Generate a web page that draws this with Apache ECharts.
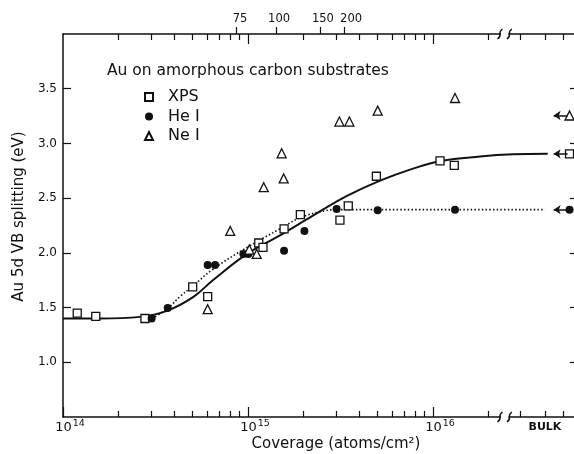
<!DOCTYPE html>
<html>
<head>
<meta charset="utf-8">
<script src="https://cdn.jsdelivr.net/npm/echarts@6/dist/echarts.min.js"></script>
<style>
  html, body { margin: 0; padding: 0; background: #fff; }
  #chart { width: 574px; height: 454px; }
</style>
</head>
<body>
<div id="chart"></div>
<script>
// x values are log10 of the coverage (atoms/cm2), y is the Au 5d splitting in eV
var xpsX = [14.077, 14.177, 14.443, 14.701, 14.782, 15.058, 15.081, 15.195, 15.283, 15.497, 15.542, 15.694, 16.038, 16.115];
var xpsY = [1.45, 1.42, 1.40, 1.69, 1.60, 2.09, 2.05, 2.22, 2.35, 2.30, 2.43, 2.70, 2.84, 2.80];
var heX = [14.479, 14.566, 14.782, 14.822, 14.975, 15.002, 15.195, 15.305, 15.479, 15.701, 16.119];
var heY = [1.40, 1.495, 1.89, 1.89, 1.99, 1.99, 2.02, 2.20, 2.40, 2.39, 2.395];
var neX = [14.782, 14.904, 15.007, 15.047, 15.085, 15.182, 15.193, 15.494, 15.548, 15.701, 16.119];
var neY = [1.485, 2.20, 2.03, 1.99, 2.60, 2.91, 2.68, 3.20, 3.20, 3.30, 3.415];

// bulk values, drawn right of the axis break
var bulkX = 16.738;
var bulkXps = 2.905, bulkHe = 2.395, bulkNe = 3.255;

// curves
var solidX = [14.0, 14.2, 14.416, 14.562, 14.703, 14.81, 14.995, 15.173, 15.351, 15.535, 15.714, 15.892, 16.043, 16.254, 16.432, 16.62];
var solidY = [1.40, 1.40, 1.415, 1.47, 1.595, 1.75, 1.99, 2.16, 2.34, 2.52, 2.66, 2.77, 2.84, 2.88, 2.90, 2.905];
var dotX = [14.481, 14.568, 14.632, 14.697, 14.81, 14.995, 15.173, 15.281, 15.39, 15.481, 16.605];
var dotY = [1.40, 1.495, 1.60, 1.69, 1.85, 2.05, 2.22, 2.32, 2.375, 2.395, 2.395];

// ticks
var majorTicks = [14, 15, 16];
var bulkLabelPos = 16.605;
var afterBreakTicks = [16.47, 16.605, 16.703];
var yTicks = [1.0, 1.5, 2.0, 2.5, 3.0, 3.5];
var thickLabels = ['75', '100', '150', '200'];
var thickTickPos = [14.935, 15.155, 15.393, 15.519];
var thickLabelPos = [14.957, 15.168, 15.405, 15.557];
var breakPos = [16.362, 16.413];

(function() {
  var myChart = echarts.init(document.getElementById('chart'));
  var ink = '#111';

  var minorTicks = [];
  [14, 15].forEach(function (d) {
    for (var k = 2; k <= 9; k++) minorTicks.push(d + Math.log10(k));
  });
  minorTicks.push(16 + Math.log10(2));
  minorTicks = minorTicks.concat(afterBreakTicks);

  function pairs(xs, ys) {
    return xs.map(function (x, i) { return [x, ys[i]]; });
  }
  function arrow(y) {
    return {
      silent: true,
      symbol: ['none', 'arrow'],
      symbolSize: 7,
      label: { show: false },
      lineStyle: { color: ink, width: 1.5, type: 'solid', opacity: 1 },
      data: [[{ coord: [16.728, y] }, { coord: [16.652, y] }]]
    };
  }

  var xMin = 14, xMax = 16.773;
  function xAx(pos, opt) {
    return Object.assign({
      type: 'value', position: pos, min: xMin, max: xMax,
      splitLine: { show: false },
      axisLine: { show: false },
      axisLabel: { show: false },
      axisTick: { show: false }
    }, opt);
  }

  var option = {
    animation: false,
    backgroundColor: '#fff',
    textStyle: { fontFamily: 'DejaVu Sans', color: ink },
    title: {
      text: 'Au on amorphous carbon substrates',
      left: 102, top: 58,
      textStyle: { fontSize: 15.5, fontWeight: 'normal', color: ink }
    },
    legend: {
      orient: 'vertical',
      left: 139, top: 84,
      itemWidth: 8, itemHeight: 8,
      itemGap: 3.5,
      data: ['XPS', 'He I', 'Ne I'],
      textStyle: { fontSize: 16, color: ink, lineHeight: 15.5, padding: [0, 0, 0, 10] }
    },
    grid: { left: 63, top: 34, right: -2, bottom: 37, outerBoundsMode: 'none' },
    xAxis: [
      xAx('bottom', {
        axisLine: { show: true, lineStyle: { color: ink, width: 1.5 } },
        axisTick: { show: true, inside: true, length: 10, customValues: majorTicks, lineStyle: { color: ink, width: 1.2 } },
        axisLabel: {
          show: true, margin: 2, customValues: majorTicks.concat([bulkLabelPos]),
          padding: [0, 0, 0, 14],
          formatter: function (v) {
            if (v > 16.5) return '{b|BULK}';
            return '{m|10}{s|' + Math.round(v) + '}';
          },
          rich: {
            m: { fontSize: 13, color: ink },
            s: { fontSize: 9.5, color: ink, padding: [0, 0, 7, 1] },
            b: { fontSize: 11, color: ink, fontWeight: 'bold', padding: [3, 14, 0, 0] }
          }
        }
      }),
      xAx('bottom', {
        name: 'Coverage (atoms/cm\u00b2)',
        nameLocation: 'middle', nameGap: 20,
        nameTextStyle: { fontSize: 15, color: ink, padding: [0, 0, 0, 33] },
        axisTick: { show: true, inside: true, length: 6, customValues: minorTicks, lineStyle: { color: ink, width: 1.2 } }
      }),
      xAx('top', {
        axisLine: { show: true, lineStyle: { color: ink, width: 1.5 } },
        axisTick: { show: true, inside: true, length: 10, customValues: [15, 16], lineStyle: { color: ink, width: 1.2 } }
      }),
      xAx('top', {
        axisTick: { show: true, inside: true, length: 6, customValues: minorTicks, lineStyle: { color: ink, width: 1.2 } }
      }),
      xAx('top', {
        axisTick: { show: true, inside: false, length: 7, customValues: thickTickPos, lineStyle: { color: ink, width: 1.2 } },
        axisLabel: {
          show: true, margin: 9, customValues: thickLabelPos, fontSize: 11.5, color: ink,
          formatter: function (v) {
            return thickLabels[thickLabelPos.indexOf(v)];
          }
        }
      })
    ],
    yAxis: [
      {
        type: 'value', position: 'left', min: 0.5, max: 4.0, interval: 0.5,
        name: 'Au 5d VB splitting (eV)',
        nameLocation: 'middle', nameGap: 31,
        nameTextStyle: { fontSize: 15, color: ink, padding: [0, 0, 0, 18] },
        splitLine: { show: false },
        axisLine: { show: true, lineStyle: { color: ink, width: 1.5 } },
        axisTick: { inside: true, length: 8, customValues: yTicks, lineStyle: { color: ink, width: 1.2 } },
        axisLabel: {
          margin: 6, fontSize: 12, color: ink, customValues: yTicks,
          formatter: function (v) { return v.toFixed(1); }
        }
      },
      {
        type: 'value', position: 'right', min: 0.5, max: 4.0, interval: 0.5,
        splitLine: { show: false },
        axisLine: { show: true, lineStyle: { color: ink, width: 1.5 } },
        axisTick: { inside: true, length: 6, customValues: yTicks, lineStyle: { color: ink, width: 1.2 } },
        axisLabel: { show: false }
      }
    ],
    series: [
      {
        name: 'fit XPS', type: 'line', smooth: 0.4, showSymbol: false, z: 2,
        data: pairs(solidX, solidY),
        lineStyle: { color: ink, width: 2 }
      },
      {
        name: 'fit He I', type: 'line', smooth: 0.4, showSymbol: false, z: 2,
        data: pairs(dotX, dotY),
        lineStyle: { color: ink, width: 1.6, type: [1.5, 2.2] }
      },
      {
        name: 'XPS', type: 'scatter', symbol: 'rect', symbolSize: 8, z: 4,
        itemStyle: { color: '#fff', borderColor: ink, borderWidth: 1.3, opacity: 1 },
        data: pairs(xpsX, xpsY).concat([[bulkX, bulkXps]]),
        markLine: arrow(bulkXps)
      },
      {
        name: 'He I', type: 'scatter', symbol: 'circle', symbolSize: 8, z: 4,
        itemStyle: { color: ink, opacity: 1 },
        data: pairs(heX, heY).concat([[bulkX, bulkHe]]),
        markLine: arrow(bulkHe)
      },
      {
        name: 'Ne I', type: 'scatter', symbol: 'triangle', symbolSize: 9, z: 4,
        itemStyle: { color: '#fff', borderColor: ink, borderWidth: 1.3, opacity: 1 },
        data: pairs(neX, neY).concat([[bulkX, bulkNe]]),
        markLine: arrow(bulkNe)
      }
    ]
  };

  myChart.setOption(option);

  // axis break marks on top and bottom axis lines
  var els = [];
  [0.5, 4.0].forEach(function (yv) {
    var a = myChart.convertToPixel({ xAxisIndex: 0, yAxisIndex: 0 }, [breakPos[0], yv]);
    var b = myChart.convertToPixel({ xAxisIndex: 0, yAxisIndex: 0 }, [breakPos[1], yv]);
    els.push({
      type: 'rect', z: 100,
      shape: { x: a[0] + 1, y: a[1] - 3, width: b[0] - a[0] - 2, height: 6 },
      style: { fill: '#fff' }
    });
    [a[0], b[0]].forEach(function (x) {
      els.push({
        type: 'bezierCurve', z: 101,
        shape: { x1: x - 2.5, y1: a[1] + 5, x2: x + 2.5, y2: a[1] - 5, cpx1: x + 3.5, cpy1: a[1] + 1, cpx2: x - 3.5, cpy2: a[1] - 1 },
        style: { stroke: ink, lineWidth: 1.4, fill: null }
      });
    });
  });
  myChart.setOption({ graphic: els });
})();
</script>
</body>
</html>
